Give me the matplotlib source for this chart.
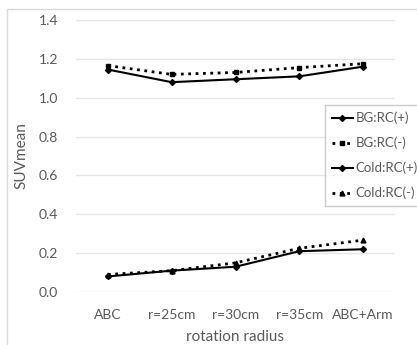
import matplotlib
matplotlib.use("Agg")
import matplotlib.pyplot as plt
from matplotlib.patches import Rectangle

plt.rcParams['font.family'] = ['Lato', 'DejaVu Sans']

categories = ["ABC", "r=25cm", "r=30cm", "r=35cm", "ABC+Arm"]
bg_rc_plus = [1.145, 1.08, 1.095, 1.11, 1.16]
bg_rc_minus = [1.165, 1.12, 1.13, 1.155, 1.175]
cold_rc_plus = [0.08, 0.11, 0.13, 0.21, 0.22]
cold_rc_minus = [0.09, 0.11, 0.15, 0.225, 0.267]
yticks = [0.0, 0.2, 0.4, 0.6, 0.8, 1.0, 1.2, 1.4]

grey = "#595959"
fig = plt.figure(figsize=(4.17, 3.45), dpi=100)
fig.patches.append(Rectangle((7 / 417, -0.05), 1.1, 1 - 9 / 345 + 0.05,
                             transform=fig.transFigure, fill=False,
                             edgecolor="#d9d9d9", lw=1))
ax = fig.add_axes([76 / 417, 1 - 292 / 345, 319 / 417, 272 / 345])

x = range(len(categories))
ax.plot(x, bg_rc_plus, "-", marker="D", ms=3, color="black", lw=1.5, label="BG:RC(+)")
ax.plot(x, bg_rc_minus, ":", marker="s", ms=3.5, color="black", lw=2, label="BG:RC(-)")
ax.plot(x, cold_rc_plus, "-", marker="D", ms=3, color="black", lw=1.5, label="Cold:RC(+)")
ax.plot(x, cold_rc_minus, ":", marker="^", ms=3.5, color="black", lw=2, label="Cold:RC(-)")

ax.set_xlim(-0.5, len(categories) - 0.5)
ax.set_ylim(0, 1.4)
ax.set_yticks(yticks)
ax.set_yticklabels([f"{v:.1f}" for v in yticks])
ax.set_xticks(list(x))
ax.set_xticklabels(categories)
ax.grid(axis="y", color="#e6e6e6", lw=1)
ax.set_axisbelow(True)
for s in ax.spines.values():
    s.set_visible(False)
ax.tick_params(length=0, colors=grey, labelsize=10, pad=12)
ax.tick_params(axis="y", pad=13)
ax.set_xlabel("rotation radius", color=grey, fontsize=11, labelpad=7)
ax.set_ylabel("SUVmean", color=grey, fontsize=11, labelpad=7)

leg = fig.legend(loc="upper left", bbox_to_anchor=(325 / 417, 1 - 105 / 345),
                 frameon=True, fancybox=False, fontsize=9.5, handlelength=1.6,
                 handletextpad=0.2, borderaxespad=0, borderpad=0.5,
                 labelspacing=0.95, labelcolor=grey)
leg.get_frame().set_edgecolor("#bfbfbf")
leg.get_frame().set_linewidth(1)

fig.savefig("out.png", dpi=100)
